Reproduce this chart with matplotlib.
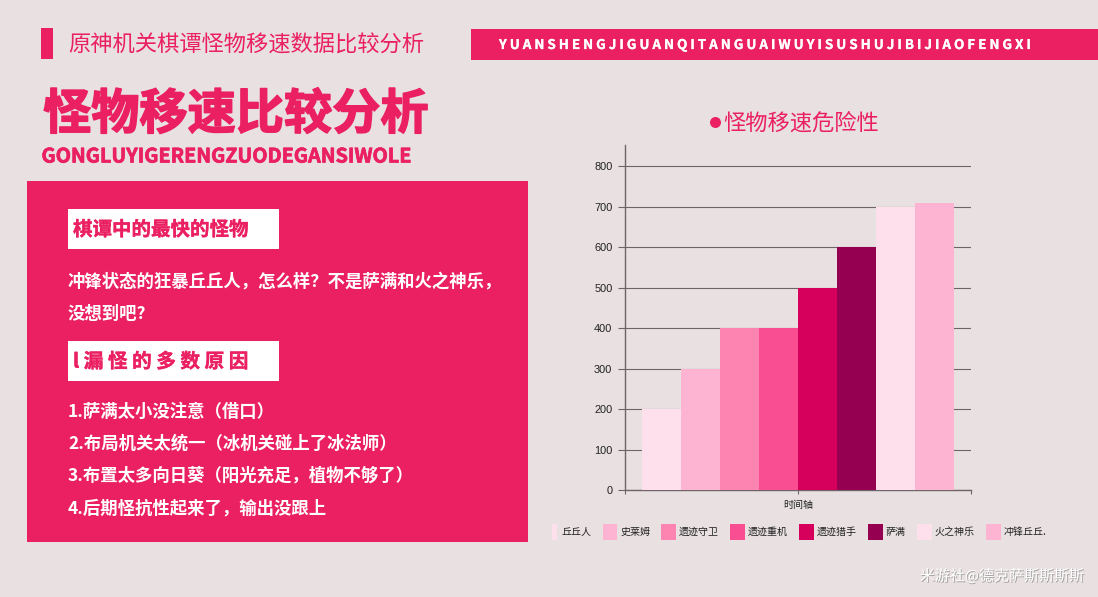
import matplotlib
matplotlib.use("Agg")
import matplotlib.pyplot as plt
from matplotlib.patches import Rectangle
import matplotlib.patheffects as pe

plt.rcParams['font.family'] = ['Noto Sans CJK SC', 'DejaVu Sans']

W, H = 1098, 597
BG = '#e8e0e1'
PINK = '#eb2062'

categories = ['丘丘人', '史莱姆', '遗迹守卫', '遗迹重机', '遗迹猎手', '萨满', '火之神乐', '冲锋丘丘']
legend_labels = ['丘丘人', '史莱姆', '遗迹守卫', '遗迹重机', '遗迹猎手', '萨满', '火之神乐', '冲锋丘丘.']
speeds = [200, 300, 400, 400, 500, 600, 700, 710]
colors = ['#fde0ec', '#fdb4d2', '#fd84b0', '#f94f92', '#d6005c', '#960050', '#fde0ec', '#fdb4d2']
y_ticks = [0, 100, 200, 300, 400, 500, 600, 700, 800]
x_label = '时间轴'
header = '原神机关棋谭怪物移速数据比较分析'
banner = 'YUANSHENGJIGUANQITANGUAIWUYISUSHUJIBIJIAOFENGXI'
main_title = '怪物移速比较分析'
sub_title = 'GONGLUYIGERENGZUODEGANSIWOLE'
box1 = '棋谭中的最快的怪物'
box2 = 'l 漏 怪 的 多 数 原 因'
para = ['冲锋状态的狂暴丘丘人，怎么样？不是萨满和火之神乐，', '没想到吧?']
reasons = ['1.萨满太小没注意（借口）', '2.布局机关太统一（冰机关碰上了冰法师）',
           '3.布置太多向日葵（阳光充足，植物不够了）', '4.后期怪抗性起来了，输出没跟上']
chart_title = '怪物移速危险性'
credit = '米游社@德克萨斯斯斯斯'

fig = plt.figure(figsize=(W / 100, H / 100), dpi=100, facecolor=BG)

ov = fig.add_axes([0, 0, 1, 1], zorder=0)
ov.set_xlim(0, W)
ov.set_ylim(H, 0)
ov.axis('off')

def rect(x0, y0, x1, y1, c):
    ov.add_patch(Rectangle((x0, y0), x1 - x0, y1 - y0, fc=c, ec='none'))

def px(p):
    return p / 100 * 72

def heavy(c, lw):
    return [pe.withStroke(linewidth=lw, foreground=c)]

rect(41, 28, 53, 59, PINK)
rect(471, 29, 1098, 60, PINK)
rect(27, 181, 528, 542, PINK)
rect(68, 209, 279, 249, 'white')
rect(68, 341, 279, 381, 'white')

ov.text(68, 45.5, header, color=PINK, fontsize=px(22.3), va='center', ha='left')
ov.text(43, 114.5, main_title, color=PINK, fontsize=px(48.2), va='center', ha='left', weight='bold',
        path_effects=heavy(PINK, 1.1))
ov.text(41.5, 157, sub_title, color=PINK, fontsize=px(19.8), va='center', ha='left', weight='bold',
        path_effects=heavy(PINK, 0.5))
ov.text(499, 45, ' '.join(banner), color='white', fontsize=px(13.35), va='center', ha='left', weight='bold',
        path_effects=heavy('white', 0.2))

ov.text(73, 230, box1, color=PINK, fontsize=px(19.5), va='center', ha='left', weight='bold',
        path_effects=heavy(PINK, 0.25))
ov.text(73, 362, box2, color=PINK, fontsize=px(19.7), va='center', ha='left', weight='bold',
        path_effects=heavy(PINK, 0.25))
ov.text(68, 282, para[0], color='white', fontsize=px(17.4), va='center', ha='left', weight='bold')
ov.text(68, 314, para[1], color='white', fontsize=px(17.4), va='center', ha='left', weight='bold')
for i, s in enumerate(reasons):
    ov.text(68, 411.5 + i * 32.2, s, color='white', fontsize=px(17.4), va='center', ha='left', weight='bold')

ov.plot([715], [122], marker='o', ms=px(11), color=PINK, mec='none')
ov.text(723, 123, chart_title, color=PINK, fontsize=px(22.3), va='center', ha='left')
ov.text(1084, 576, credit, color='white', fontsize=px(15), va='center', ha='right',
        path_effects=[pe.withSimplePatchShadow(offset=(0.7, -0.7), shadow_rgbFace='#777777', alpha=0.6)])

# chart
AL, AR, AT, AB = 625, 971, 145, 490
ax = fig.add_axes([AL / W, 1 - AB / H, (AR - AL) / W, (AB - AT) / H], zorder=1)
ax.patch.set_alpha(0)
ax.set_xlim(-0.5, 0.5)
ax.set_ylim(0, 852)
n = len(speeds)
w = 0.1125
for i, (v, c) in enumerate(zip(speeds, colors)):
    ax.bar((i - (n - 1) / 2) * w, v, width=w * 0.99, color=c, zorder=3, label=categories[i],
           edgecolor='none')
ax.set_axisbelow(True)
ax.grid(axis='y', color='#6f6568', lw=0.8, zorder=1)
ax.set_yticks(y_ticks)
ax.set_xticks([-0.5, 0, 0.5])
ax.set_xticklabels(['', x_label, ''])
ax.tick_params(axis='y', labelsize=px(11), colors='#222222', length=5, color='#6f6568', pad=4)
ax.tick_params(axis='x', labelsize=px(10), colors='#222222', length=3, color='#6f6568', direction='out', pad=4)
for lab in ax.get_yticklabels():
    lab.set_family(['Liberation Sans'])
for s in ['top', 'right']:
    ax.spines[s].set_visible(False)
for s in ['left', 'bottom']:
    ax.spines[s].set_color('#6f6568')
    ax.spines[s].set_linewidth(1.0)

# legend
sw = [(552, 557), (603, 617), (661, 676), (730, 745), (799, 814), (868, 883), (917, 932), (986, 1001)]
tx = [561, 620.5, 679, 748, 817, 885.5, 934.7, 1003.7]
ov2 = fig.add_axes([0, 0, 1, 1], zorder=2)
ov2.set_xlim(0, W); ov2.set_ylim(H, 0); ov2.axis('off')
ov2.patch.set_alpha(0)
for (a, b), x, c, lab in zip(sw, tx, colors, legend_labels):
    ov2.add_patch(Rectangle((a, 524), b - a, 16, fc=c, ec='none'))
    ov2.text(x, 532, lab, fontsize=px(10), color='#222222', va='center', ha='left')

fig.savefig('out.png', dpi=100, facecolor=BG)
